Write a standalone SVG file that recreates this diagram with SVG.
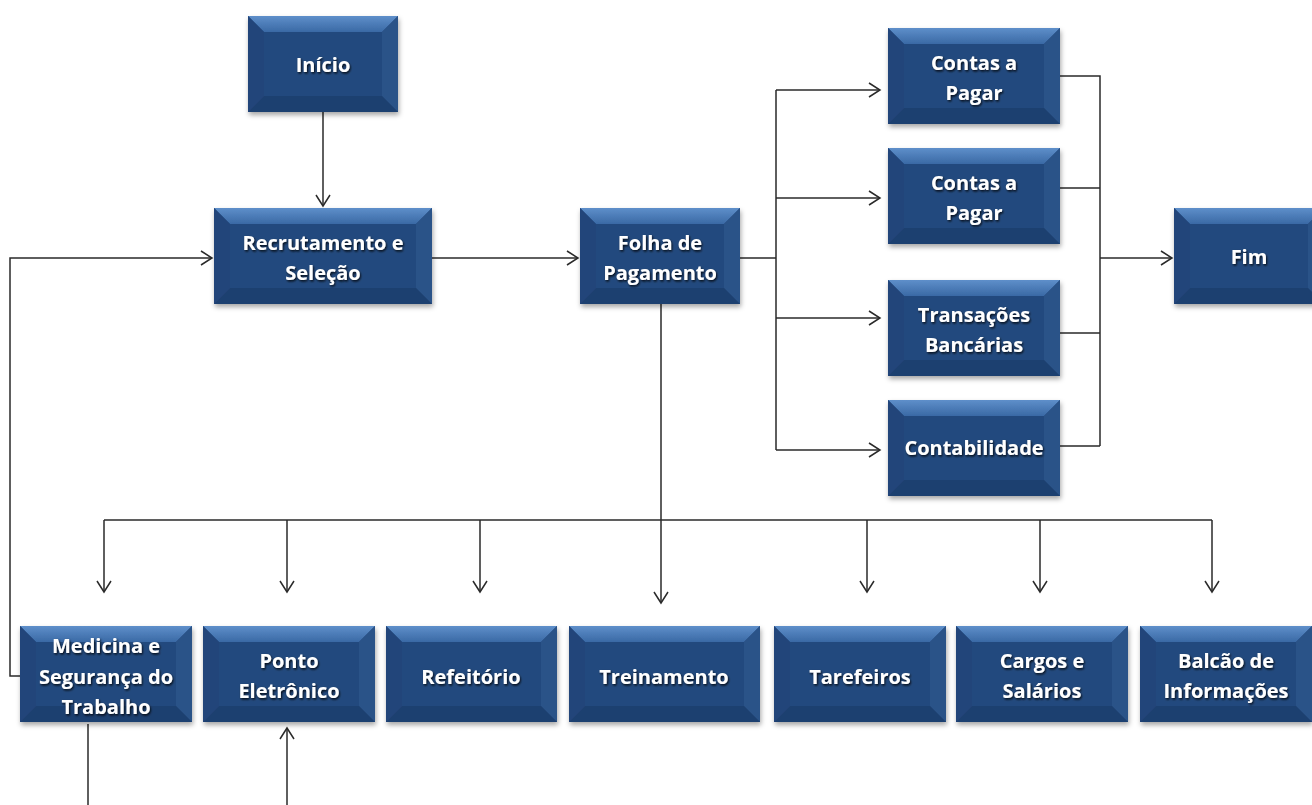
<svg xmlns="http://www.w3.org/2000/svg" width="1312" height="805" viewBox="0 0 1312 805">
<defs>
<style>
.m{fill:#244a7e}
.t{fill:url(#gt)}
.l{fill:#21457a}
.r{fill:#2a5388}
.b{fill:#1e4070}
.tx{font-family:"Open Sans","Liberation Sans",sans-serif;font-weight:bold;font-size:20px;fill:#fff;text-anchor:middle;filter:url(#ts)}
.c{fill:none;stroke:#2a2a2a;stroke-width:1.5}
.node{filter:url(#ds)}
</style>
<linearGradient id="gt" x1="0" y1="0" x2="0" y2="1">
<stop offset="0" stop-color="#5e8fca"/>
<stop offset="1" stop-color="#3a69a5"/>
</linearGradient>
<filter id="ds" x="-10%" y="-10%" width="125%" height="130%">
<feDropShadow dx="1" dy="3" stdDeviation="2.5" flood-color="#000" flood-opacity="0.35"/>
</filter>
<filter id="ts" x="-10%" y="-30%" width="120%" height="160%">
<feDropShadow dx="1" dy="1.5" stdDeviation="1.2" flood-color="#000" flood-opacity="0.85"/>
</filter>
<marker id="a" markerUnits="userSpaceOnUse" markerWidth="16" markerHeight="18" refX="13" refY="8" orient="auto" viewBox="0 0 16 16">
<path d="M2,1 L13,8 L2,15" fill="none" stroke="#2a2a2a" stroke-width="1.5"/>
</marker>
</defs>
<rect width="1312" height="805" fill="#fff"/>

<g id="connectors">
<path class="c" d="M323,112 V206" marker-end="url(#a)"/>
<path class="c" d="M20,676 H10 V258 H212" marker-end="url(#a)"/>
<path class="c" d="M432,258 H578" marker-end="url(#a)"/>
<path class="c" d="M740,258 H776 M776,90 V450"/>
<path class="c" d="M776,90 H880" marker-end="url(#a)"/>
<path class="c" d="M776,198 H880" marker-end="url(#a)"/>
<path class="c" d="M776,318 H880" marker-end="url(#a)"/>
<path class="c" d="M776,450 H880" marker-end="url(#a)"/>
<path class="c" d="M1060,76 H1100 V446 M1060,188 H1100 M1060,333 H1100 M1060,446 H1100"/>
<path class="c" d="M1100,258 H1172" marker-end="url(#a)"/>
<path class="c" d="M661,304 V603" marker-end="url(#a)"/>
<path class="c" d="M104,520 H1212"/>
<path class="c" d="M104,520 V592" marker-end="url(#a)"/>
<path class="c" d="M287,520 V592" marker-end="url(#a)"/>
<path class="c" d="M480,520 V592" marker-end="url(#a)"/>
<path class="c" d="M867,520 V592" marker-end="url(#a)"/>
<path class="c" d="M1040,520 V592" marker-end="url(#a)"/>
<path class="c" d="M1212,520 V592" marker-end="url(#a)"/>
<path class="c" d="M88,724 V805"/>
<path class="c" d="M287,805 V728" marker-end="url(#a)"/>
</g>

<g id="inicio" class="node">
<rect class="m" x="248" y="16" width="150" height="96"/>
<polygon class="t" points="248,16 398,16 382,32 264,32"/>
<polygon class="l" points="248,16 264,32 264,96 248,112"/>
<polygon class="r" points="398,16 398,112 382,96 382,32"/>
<polygon class="b" points="248,112 264,96 382,96 398,112"/>
<text class="tx" x="323" y="72">Início</text>
</g>

<g id="recrutamento" class="node">
<rect class="m" x="214" y="208" width="218" height="96"/>
<polygon class="t" points="214,208 432,208 416,224 230,224"/>
<polygon class="l" points="214,208 230,224 230,288 214,304"/>
<polygon class="r" points="432,208 432,304 416,288 416,224"/>
<polygon class="b" points="214,304 230,288 416,288 432,304"/>
<text class="tx" x="323" y="250">Recrutamento e</text>
<text class="tx" x="323" y="280">Seleção</text>
</g>

<g id="folha" class="node">
<rect class="m" x="580" y="208" width="160" height="96"/>
<polygon class="t" points="580,208 740,208 724,224 596,224"/>
<polygon class="l" points="580,208 596,224 596,288 580,304"/>
<polygon class="r" points="740,208 740,304 724,288 724,224"/>
<polygon class="b" points="580,304 596,288 724,288 740,304"/>
<text class="tx" x="660" y="250">Folha de</text>
<text class="tx" x="660" y="280">Pagamento</text>
</g>

<g id="contas1" class="node">
<rect class="m" x="888" y="28" width="172" height="96"/>
<polygon class="t" points="888,28 1060,28 1044,44 904,44"/>
<polygon class="l" points="888,28 904,44 904,108 888,124"/>
<polygon class="r" points="1060,28 1060,124 1044,108 1044,44"/>
<polygon class="b" points="888,124 904,108 1044,108 1060,124"/>
<text class="tx" x="974" y="70">Contas a</text>
<text class="tx" x="974" y="100">Pagar</text>
</g>

<g id="contas2" class="node">
<rect class="m" x="888" y="148" width="172" height="96"/>
<polygon class="t" points="888,148 1060,148 1044,164 904,164"/>
<polygon class="l" points="888,148 904,164 904,228 888,244"/>
<polygon class="r" points="1060,148 1060,244 1044,228 1044,164"/>
<polygon class="b" points="888,244 904,228 1044,228 1060,244"/>
<text class="tx" x="974" y="190">Contas a</text>
<text class="tx" x="974" y="220">Pagar</text>
</g>

<g id="transacoes" class="node">
<rect class="m" x="888" y="280" width="172" height="96"/>
<polygon class="t" points="888,280 1060,280 1044,296 904,296"/>
<polygon class="l" points="888,280 904,296 904,360 888,376"/>
<polygon class="r" points="1060,280 1060,376 1044,360 1044,296"/>
<polygon class="b" points="888,376 904,360 1044,360 1060,376"/>
<text class="tx" x="974" y="322">Transações</text>
<text class="tx" x="974" y="352">Bancárias</text>
</g>

<g id="contabilidade" class="node">
<rect class="m" x="888" y="400" width="172" height="96"/>
<polygon class="t" points="888,400 1060,400 1044,416 904,416"/>
<polygon class="l" points="888,400 904,416 904,480 888,496"/>
<polygon class="r" points="1060,400 1060,496 1044,480 1044,416"/>
<polygon class="b" points="888,496 904,480 1044,480 1060,496"/>
<text class="tx" x="974" y="455">Contabilidade</text>
</g>

<g id="fim" class="node">
<rect class="m" x="1174" y="208" width="150" height="96"/>
<polygon class="t" points="1174,208 1324,208 1308,224 1190,224"/>
<polygon class="l" points="1174,208 1190,224 1190,288 1174,304"/>
<polygon class="r" points="1324,208 1324,304 1308,288 1308,224"/>
<polygon class="b" points="1174,304 1190,288 1308,288 1324,304"/>
<text class="tx" x="1249" y="264">Fim</text>
</g>

<g id="medicina" class="node">
<rect class="m" x="20" y="626" width="172" height="96"/>
<polygon class="t" points="20,626 192,626 176,642 36,642"/>
<polygon class="l" points="20,626 36,642 36,706 20,722"/>
<polygon class="r" points="192,626 192,722 176,706 176,642"/>
<polygon class="b" points="20,722 36,706 176,706 192,722"/>
<text class="tx" x="106" y="653">Medicina e</text>
<text class="tx" x="106" y="684">Segurança do</text>
<text class="tx" x="106" y="714">Trabalho</text>
</g>

<g id="ponto" class="node">
<rect class="m" x="203" y="626" width="172" height="96"/>
<polygon class="t" points="203,626 375,626 359,642 219,642"/>
<polygon class="l" points="203,626 219,642 219,706 203,722"/>
<polygon class="r" points="375,626 375,722 359,706 359,642"/>
<polygon class="b" points="203,722 219,706 359,706 375,722"/>
<text class="tx" x="289" y="668">Ponto</text>
<text class="tx" x="289" y="698">Eletrônico</text>
</g>

<g id="refeitorio" class="node">
<rect class="m" x="386" y="626" width="171" height="96"/>
<polygon class="t" points="386,626 557,626 541,642 402,642"/>
<polygon class="l" points="386,626 402,642 402,706 386,722"/>
<polygon class="r" points="557,626 557,722 541,706 541,642"/>
<polygon class="b" points="386,722 402,706 541,706 557,722"/>
<text class="tx" x="471" y="684">Refeitório</text>
</g>

<g id="treinamento" class="node">
<rect class="m" x="569" y="626" width="191" height="96"/>
<polygon class="t" points="569,626 760,626 744,642 585,642"/>
<polygon class="l" points="569,626 585,642 585,706 569,722"/>
<polygon class="r" points="760,626 760,722 744,706 744,642"/>
<polygon class="b" points="569,722 585,706 744,706 760,722"/>
<text class="tx" x="664" y="684">Treinamento</text>
</g>

<g id="tarefeiros" class="node">
<rect class="m" x="774" y="626" width="172" height="96"/>
<polygon class="t" points="774,626 946,626 930,642 790,642"/>
<polygon class="l" points="774,626 790,642 790,706 774,722"/>
<polygon class="r" points="946,626 946,722 930,706 930,642"/>
<polygon class="b" points="774,722 790,706 930,706 946,722"/>
<text class="tx" x="860" y="684">Tarefeiros</text>
</g>

<g id="cargos" class="node">
<rect class="m" x="956" y="626" width="172" height="96"/>
<polygon class="t" points="956,626 1128,626 1112,642 972,642"/>
<polygon class="l" points="956,626 972,642 972,706 956,722"/>
<polygon class="r" points="1128,626 1128,722 1112,706 1112,642"/>
<polygon class="b" points="956,722 972,706 1112,706 1128,722"/>
<text class="tx" x="1042" y="668">Cargos e</text>
<text class="tx" x="1042" y="698">Salários</text>
</g>

<g id="balcao" class="node">
<rect class="m" x="1140" y="626" width="172" height="96"/>
<polygon class="t" points="1140,626 1312,626 1296,642 1156,642"/>
<polygon class="l" points="1140,626 1156,642 1156,706 1140,722"/>
<polygon class="r" points="1312,626 1312,722 1296,706 1296,642"/>
<polygon class="b" points="1140,722 1156,706 1296,706 1312,722"/>
<text class="tx" x="1226" y="668">Balcão de</text>
<text class="tx" x="1226" y="698">Informações</text>
</g>
</svg>
